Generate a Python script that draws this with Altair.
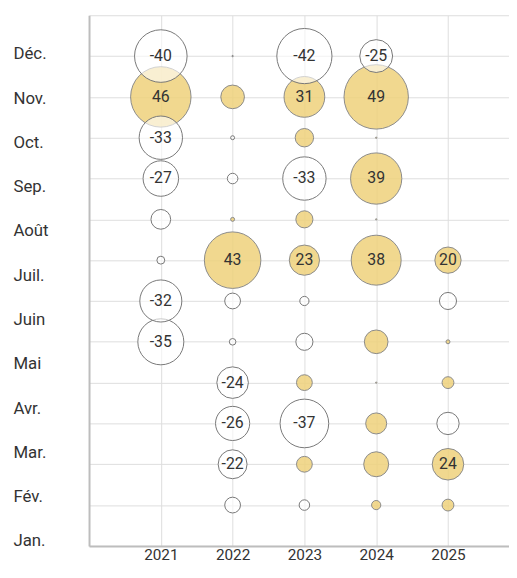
import altair as alt
import pandas as pd

years = [2021, 2022, 2023, 2024, 2025]
months = ["Jan.", "Fév.", "Mar.", "Avr.", "Mai", "Juin", "Juil.", "Août", "Sep.", "Oct.", "Nov.", "Déc."]

# values per year, Jan. .. Déc. (None = no bubble)
v2021 = [None, None, None, None, -35, -32, -6, -15, -27, -33, 46, -40]
v2022 = [-12, -22, -26, -24, -5, -12, 43, 3, -8, -3, 18, -1]
v2023 = [-8, 12, -37, 12, -13, -7, 23, 13, -33, 14, 31, -42]
v2024 = [7, 19, 16, 1, 18, None, 38, 1, 39, 1, 49, -25]
v2025 = [9, 24, -17, 9, 3, -13, 20, None, None, None, None, None]

rows = []
for yr, vals in zip(years, [v2021, v2022, v2023, v2024, v2025]):
    for i, v in enumerate(vals):
        if v is not None:
            rows.append({"year": yr, "m": i + 1, "value": v})
df = pd.DataFrame(rows)
mdf = pd.DataFrame({"m": list(range(1, 13)), "label": months})

FONT = "Roboto"
TXT = "#333333"

x_axis = alt.Axis(values=years, format="d", grid=True, gridColor="#dddddd", gridWidth=1,
                  ticks=False, domain=True, domainColor="#bdbdbd", domainWidth=2,
                  labelFont=FONT, labelFontSize=15.5, labelColor=TXT, labelPadding=2,
                  labelFlush=False, labelOverlap=False, title=None)
x_enc = alt.X("year:Q", scale=alt.Scale(domain=[2020, 2025.85], nice=False, zero=False), axis=x_axis)

y_scale = alt.Scale(domain=[0, 13], nice=False, zero=False)
grid_axis = alt.Axis(values=list(range(14)), grid=True, gridColor="#dddddd", gridWidth=1,
                     labels=False, ticks=False, domain=True, domainColor="#bdbdbd", domainWidth=2,
                     title=None, orient="left")

# Vega circle: diameter = sqrt(size)
size_enc = alt.Size("sq:Q", scale=alt.Scale(domain=[0, 2500], range=[0, 4420]), legend=None)

base = alt.Chart(df).transform_calculate(sq="datum.value*datum.value", lab="toString(datum.value)")

gold = base.transform_filter("datum.value > 0").mark_circle(
    color="#efd27c", opacity=0.85, stroke="#777777", strokeWidth=1, strokeOpacity=1
).encode(x=x_enc, y=alt.Y("m:Q", scale=y_scale, axis=grid_axis), size=size_enc)

white = base.transform_filter("datum.value < 0").mark_circle(
    color="#ffffff", fillOpacity=0.6, stroke="#777777", strokeWidth=1, strokeOpacity=1
).encode(x=x_enc, y=alt.Y("m:Q", scale=y_scale, axis=None), size=size_enc)

labels = base.transform_filter("abs(datum.value) >= 20").mark_text(
    font=FONT, fontSize=16, color=TXT, baseline="middle", align="center"
).encode(x=x_enc, y=alt.Y("m:Q", scale=y_scale, axis=None), text="lab:N")

label_expr = "[" + ",".join("'" + m + "'" for m in months) + "][datum.value - 1]"
month_axis = alt.Axis(values=list(range(1, 13)), labelExpr=label_expr, grid=False, ticks=False,
                      domain=False, labelAlign="left", labelBaseline="middle", labelPadding=77,
                      labelFont=FONT, labelFontSize=17, labelColor=TXT, labelFlush=False,
                      labelOverlap=False, title=None, orient="left")
month_layer = alt.Chart(mdf).mark_point(opacity=0).encode(
    x=x_enc,
    y=alt.Y("m:Q", scale=alt.Scale(domain=[0.889, 12.87], nice=False, zero=False), axis=month_axis),
)

chart = alt.layer(gold, white, labels, month_layer).resolve_scale(y="independent").properties(
    width=425, height=537,
    autosize=alt.AutoSizeParams(type="none"),
    padding={"left": 82, "top": 4, "right": 0, "bottom": 17},
).configure_view(stroke=None)

chart.save("out.html", embed_options={"renderer": "svg", "actions": False})
